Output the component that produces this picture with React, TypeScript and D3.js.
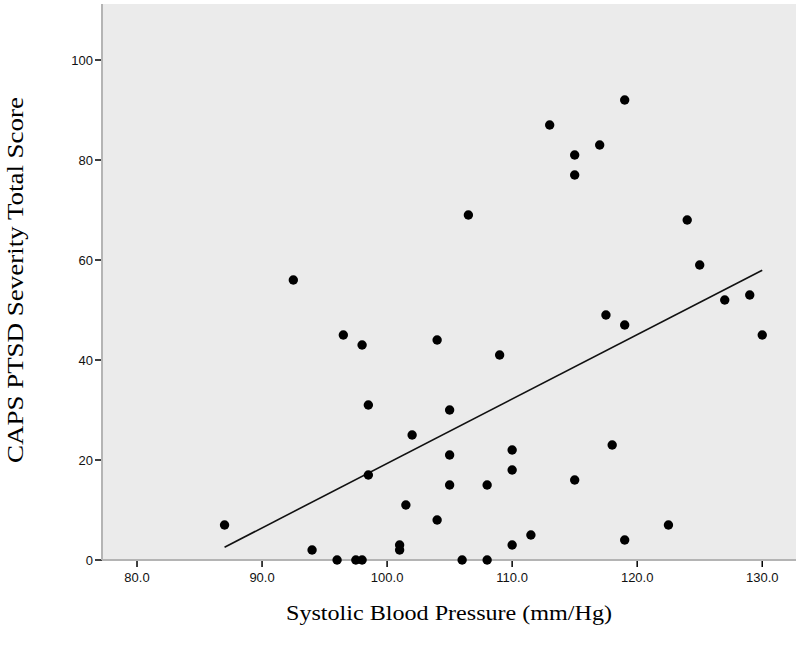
import React from "react";
import * as d3 from "d3";

// Systolic blood pressure (mm/Hg) and CAPS PTSD severity, one entry per subject
const systolic = [
  87, 92.5, 94, 96, 96.5, 97.5, 98, 98, 98.5, 98.5, 101, 101, 101.5, 102, 104, 104,
  105, 105, 105, 106, 106.5, 108, 108, 109, 110, 110, 110, 111.5, 113, 115, 115, 115,
  117, 117.5, 118, 119, 119, 119, 122.5, 124, 125, 127, 129, 130,
];
const caps = [
  7, 56, 2, 0, 45, 0, 0, 43, 31, 17, 3, 2, 11, 25, 44, 8,
  30, 21, 15, 0, 69, 0, 15, 41, 22, 18, 3, 5, 87, 81, 77, 16,
  83, 49, 23, 92, 47, 4, 7, 68, 59, 52, 53, 45,
];
// fit line as drawn in the figure (end points)
const fitX = [87, 130];
const fitY = [2.56, 57.96];
const xTicks = [80, 90, 100, 110, 120, 130];
const yTicks = [0, 20, 40, 60, 80, 100];

const W = 800;
const H = 655;
const m = { left: 102, right: 4, top: 4, bottom: 95 };

export default function App() {
  const x = d3.scaleLinear().domain([77.2, 132.7]).range([m.left, W - m.right]);
  const y = d3.scaleLinear().domain([0, 111.2]).range([H - m.bottom, m.top]);

  const fitPath = d3
    .line<number>()
    .x(d => x(d))
    .y((d, i) => y(fitY[i]))(fitX);

  const bottom = H - m.bottom;
  const tickFont = "'Liberation Sans', Arial, sans-serif";
  const titleFont = "'Liberation Serif', 'Times New Roman', serif";

  return (
    <div style={{ position: "fixed", left: 0, top: 0 }}>
      <svg width={W} height={H} style={{ display: "block", background: "#fff" }}>
        <rect x={m.left} y={m.top} width={W - m.right - m.left} height={bottom - m.top} fill="#ebebeb" />
        {yTicks.map(t => (
          <g key={t}>
            <line x1={m.left - 7} x2={m.left} y1={y(t)} y2={y(t)} stroke="#000" strokeWidth={1.5} />
            <text x={m.left - 9} y={y(t)} dy="0.36em" textAnchor="end" fontFamily={tickFont} fontSize={13} fill="#111">
              {t}
            </text>
          </g>
        ))}
        {xTicks.map(t => (
          <g key={t}>
            <line x1={x(t)} x2={x(t)} y1={bottom} y2={bottom + 7} stroke="#000" strokeWidth={1.5} />
            <text x={x(t)} y={bottom + 22} textAnchor="middle" fontFamily={tickFont} fontSize={13} fill="#111">
              {t.toFixed(1)}
            </text>
          </g>
        ))}
        <line x1={m.left} x2={m.left} y1={m.top} y2={bottom} stroke="#b4b4b4" strokeWidth={2} />
        <line x1={m.left} x2={W - m.right} y1={bottom} y2={bottom} stroke="#b4b4b4" strokeWidth={2} />
        <path d={fitPath ?? ""} fill="none" stroke="#111" strokeWidth={1.6} />
        {systolic.map((v, i) => (
          <circle key={i} cx={x(v)} cy={y(caps[i])} r={4.7} fill="#000" />
        ))}
        <text
          transform={`translate(23,280) rotate(-90)`}
          textAnchor="middle"
          fontFamily={titleFont}
          fontSize={23}
          textLength={366}
          lengthAdjust="spacingAndGlyphs"
          fill="#000"
        >
          CAPS PTSD Severity Total Score
        </text>
        <text
          x={449}
          y={620}
          textAnchor="middle"
          fontFamily={titleFont}
          fontSize={22}
          textLength={326}
          lengthAdjust="spacingAndGlyphs"
          fill="#000"
        >
          Systolic Blood Pressure (mm/Hg)
        </text>
      </svg>
    </div>
  );
}
